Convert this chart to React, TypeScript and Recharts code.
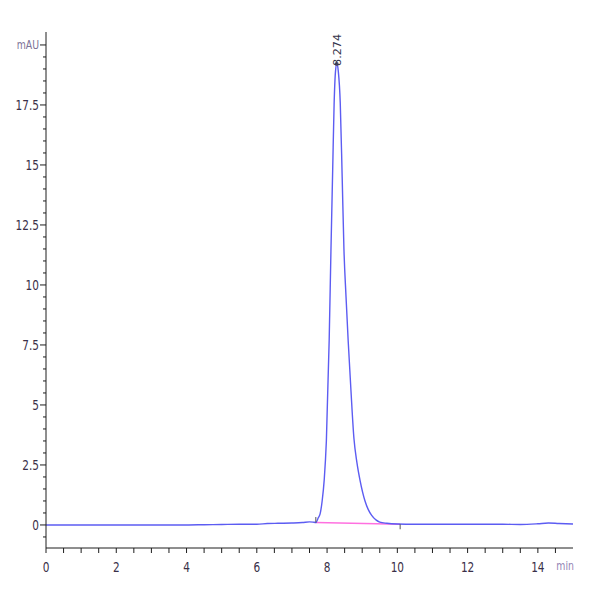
import React from 'react';
import { LineChart, Line, XAxis, YAxis, ReferenceDot, ReferenceLine } from 'recharts';

// Chromatogram signal (time in min, absorbance in mAU)
const times = [
  0, 1, 2, 3, 4, 4.5, 5, 5.5, 6, 6.3, 6.6, 7, 7.3, 7.5, 7.6, 7.68, 7.75, 7.8, 7.86, 7.92,
  7.98, 8.06, 8.11, 8.16, 8.2, 8.24, 8.28, 8.32, 8.375, 8.43, 8.48, 8.54, 8.6, 8.68, 8.765,
  8.85, 8.94, 9.08, 9.17, 9.27, 9.4, 9.5, 9.7, 10, 10.5, 11, 12, 13, 13.5, 14, 14.3, 14.6, 15,
];
const signal = [
  0, 0, 0, 0, 0, 0.01, 0.02, 0.03, 0.03, 0.06, 0.07, 0.08, 0.1, 0.13, 0.12, 0.1, 0.3, 0.45, 1.0, 1.9,
  3.5, 7.7, 11.4, 14.8, 17.5, 18.9, 19.25, 18.9, 17.6, 14.5, 11.5, 9.5, 7.7, 5.6, 3.6,
  2.6, 1.85, 1.0, 0.65, 0.4, 0.2, 0.12, 0.07, 0.04, 0.03, 0.03, 0.03, 0.03, 0.02, 0.05, 0.08, 0.06, 0.04,
];

// Integration baseline
const baselineTimes = [7.68, 10.08];
const baselineValues = [0.1, 0.03];

// Peak annotation
const peakTime = 8.274;
const peakHeight = 19.25;
const peakLabel = '8.274';

// Axes
const yMajorLabels = [0, 2.5, 5, 7.5, 10, 12.5, 15, 17.5];
const xMajorLabels = [0, 2, 4, 6, 8, 10, 12, 14];
const yUnit = 'mAU';
const xUnit = 'min';
const yUnitAt = 20;

const yMinorTicks: number[] = [];
for (let i = -1; i <= 40; i++) yMinorTicks.push(i / 2);
const xMinorTicks: number[] = [];
for (let i = 0; i <= 29; i++) xMinorTicks.push(i / 2);

const data = times.map((t, i) => ({ t, v: signal[i] }));
const baselineData = baselineTimes.map((t, i) => ({ t, v: baselineValues[i] }));

const FONT = "'DejaVu Sans', sans-serif";
const AXIS = '#1e1e1e';
const LABEL = '#3a3048';

// Narrow text: real text, horizontally compressed like the instrument's condensed font
const NText = ({ x, y, anchor, size, fill, children }: any) => (
  <g transform={`translate(${x}, ${y}) scale(0.78, 1)`}>
    <text x={0} y={0} textAnchor={anchor} fontFamily={FONT} fontSize={size} fill={fill}>
      {children}
    </text>
  </g>
);

const YTick = (props: any) => {
  const { x, y, payload } = props;
  const v = payload.value as number;
  const isMajor = yMajorLabels.some((m) => Math.abs(m - v) < 1e-6);
  const isUnit = Math.abs(v - yUnitAt) < 1e-6;
  const len = isMajor || isUnit ? 6 : 3;
  return (
    <g>
      <line x1={x - len} x2={x} y1={y} y2={y} stroke={AXIS} strokeWidth={1} />
      {isMajor && (
        <NText x={x - 7} y={y + 5} anchor="end" size={13.5} fill={LABEL}>
          {String(v)}
        </NText>
      )}
      {isUnit && (
        <NText x={x - 7} y={y + 4} anchor="end" size={12} fill="#7d7398">
          {yUnit}
        </NText>
      )}
    </g>
  );
};

const XTick = (props: any) => {
  const { x, y, payload } = props;
  const v = payload.value as number;
  const isMajor = xMajorLabels.some((m) => Math.abs(m - v) < 1e-6);
  return (
    <g>
      <line x1={x} x2={x} y1={y} y2={y + 5} stroke={AXIS} strokeWidth={1} />
      {isMajor && (
        <NText x={x} y={y + 24} anchor="middle" size={13.5} fill={LABEL}>
          {String(v)}
        </NText>
      )}
    </g>
  );
};

const PeakLabel = (props: any) => {
  const { cx, cy } = props;
  const bx = cx + 4;
  const by = cy + 3;
  return (
    <g>
      <circle cx={cx} cy={cy + 1} r={2} fill="#55506a" />
      <text
        x={bx}
        y={by}
        transform={`rotate(-90, ${bx}, ${by})`}
        fontFamily={FONT}
        fontSize={11}
        fill="#33334a"
        textLength={32}
        lengthAdjust="spacingAndGlyphs"
      >
        {peakLabel}
      </text>
    </g>
  );
};

export default function App() {
  return (
    <div style={{ position: 'absolute', left: 0, top: 0, width: 600, height: 600, background: '#fff' }}>
      <LineChart width={600} height={600} data={data} margin={{ top: 32, right: 27, bottom: 0, left: 0 }}>
        <XAxis
          dataKey="t"
          type="number"
          domain={[0, 15]}
          allowDataOverflow
          ticks={xMinorTicks}
          interval={0}
          tickSize={0}
          tickMargin={0}
          height={52}
          axisLine={{ stroke: AXIS, strokeWidth: 1 }}
          tickLine={false}
          tick={<XTick />}
        />
        <YAxis
          type="number"
          domain={[-0.96, 20.54]}
          allowDataOverflow
          ticks={yMinorTicks}
          interval={0}
          tickSize={0}
          tickMargin={0}
          width={46}
          axisLine={{ stroke: AXIS, strokeWidth: 1 }}
          tickLine={false}
          tick={<YTick />}
        />
        <Line
          data={baselineData}
          dataKey="v"
          type="linear"
          stroke="#ff70e0"
          strokeWidth={1.5}
          dot={false}
          activeDot={false}
          isAnimationActive={false}
        />
        <Line
          dataKey="v"
          type="monotone"
          stroke="#5c5cf2"
          strokeWidth={1.4}
          dot={false}
          activeDot={false}
          isAnimationActive={false}
        />
        <ReferenceLine
          segment={[{ x: baselineTimes[0], y: 0.1 }, { x: baselineTimes[0], y: 0.33 }]}
          stroke="#555"
          strokeWidth={1}
          ifOverflow="visible"
        />
        <ReferenceLine
          segment={[{ x: baselineTimes[1], y: 0.03 }, { x: baselineTimes[1], y: -0.18 }]}
          stroke="#555"
          strokeWidth={1}
          ifOverflow="visible"
        />
        <ReferenceDot x={peakTime} y={peakHeight} r={0} ifOverflow="visible" shape={<PeakLabel />} />
      </LineChart>
      <svg style={{ position: 'absolute', left: 0, top: 0, pointerEvents: 'none' }} width={600} height={600}>
        <NText x={574} y={570} anchor="end" size={12} fill="#9384b4">
          {xUnit}
        </NText>
      </svg>
    </div>
  );
}
